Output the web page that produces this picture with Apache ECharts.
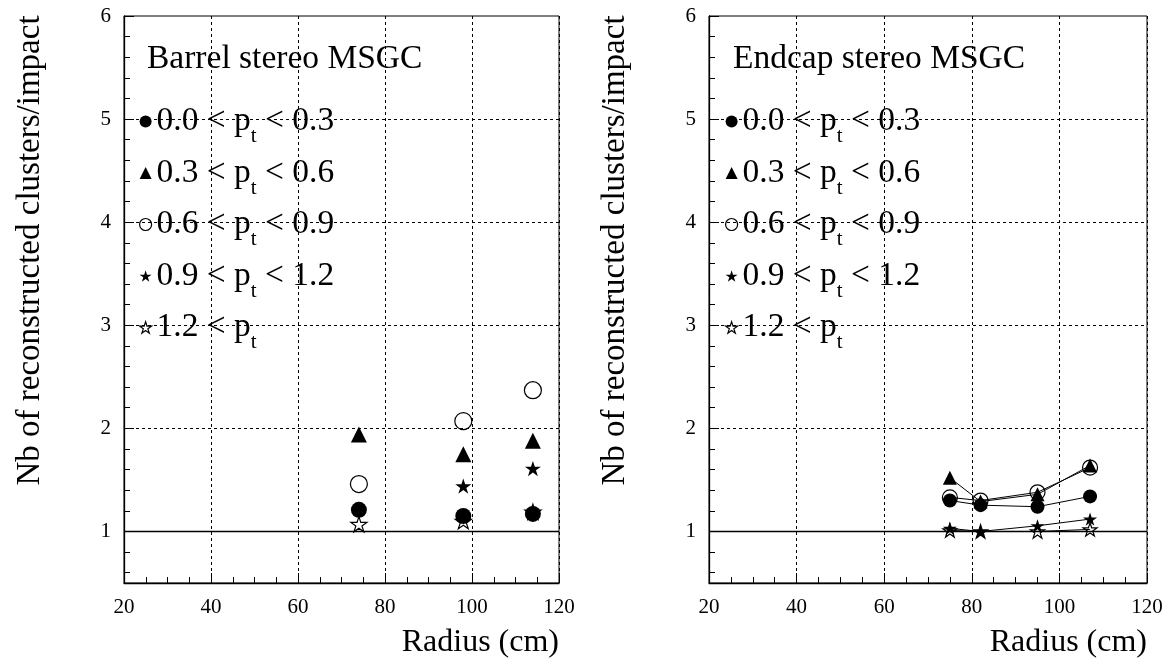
<!DOCTYPE html>
<html>
<head>
<meta charset="utf-8">
<script src="https://cdn.jsdelivr.net/npm/echarts@6/dist/echarts.min.js"></script>
<style>
  html, body { margin: 0; padding: 0; background: #fff; }
  #chart { width: 1168px; height: 665px; }
</style>
</head>
<body>
<div id="chart"></div>
<script>
// Radii (cm) of the measured layers
const radiusBarrel = [74, 98, 114];
const radiusEndcap = [75, 82, 95, 107];

// pt bins (GeV/c): lower and upper edge (null = open bin)
const ptBins = [['0.0', '0.3'], ['0.3', '0.6'], ['0.6', '0.9'], ['0.9', '1.2'], ['1.2', null]];

// Barrel stereo MSGC: reconstructed clusters per impact, one array per pt bin
const barrelPt00to03 = [1.21, 1.15, 1.17];
const barrelPt03to06 = [1.94, 1.75, 1.88];
const barrelPt06to09 = [1.46, 2.07, 2.37];
const barrelPt09to12 = [1.22, 1.44, 1.61];
const barrelPtAbove12 = [1.07, 1.10, 1.19];

// Endcap stereo MSGC
const endcapPt00to03 = [1.30, 1.255, 1.24, 1.34];
const endcapPt03to06 = [1.52, 1.29, 1.36, 1.64];
const endcapPt06to09 = [1.33, 1.30, 1.38, 1.62];
const endcapPt09to12 = [1.03, 1.00, 1.055, 1.12];
const endcapPtAbove12 = [1.01, 1.00, 1.00, 1.02];

// Axis ticks
const xTickStep = 20;
const yMajorTicks = [1, 2, 3, 4, 5, 6];
const yGridLines = [2, 3, 4, 5];
const yReferenceLine = 1;

const panelTitles = ['Barrel stereo MSGC', 'Endcap stereo MSGC'];
const xAxisTitle = 'Radius (cm)';
const yAxisTitle = 'Nb of reconstructed clusters/impact';

const barrelSets = [barrelPt00to03, barrelPt03to06, barrelPt06to09, barrelPt09to12, barrelPtAbove12];
const endcapSets = [endcapPt00to03, endcapPt03to06, endcapPt06to09, endcapPt09to12, endcapPtAbove12];

// minor y ticks every 0.2 between the major ones
const yMinorTicks = [];
for (let v = 0.6; v < 6; v += 0.2) {
  const r = Math.round(v * 10) / 10;
  if (Math.abs(r - Math.round(r)) > 1e-6) yMinorTicks.push(r);
}

const FONT = '"Liberation Serif", "Times New Roman", "DejaVu Serif", serif';
const STAR = 'path://M50,0L61.23,34.55L97.55,34.55L68.17,55.9L79.39,90.45L50,69.1L20.61,90.45L31.83,55.9L2.45,34.55L38.77,34.55Z';

// marker style per pt bin
const markerStyles = [
  { symbol: 'circle', filled: true, size: 16 },
  { symbol: 'triangle', filled: true, size: 16 },
  { symbol: 'circle', filled: false, size: 17 },
  { symbol: STAR, filled: true, size: 16 },
  { symbol: STAR, filled: false, size: 16 }
];

const seriesNames = ptBins.map(b => b[1] ? b[0] + ' < pt < ' + b[1] : b[0] + ' < pt');
const legendLabels = {};
ptBins.forEach((b, i) => {
  legendLabels[seriesNames[i]] = b[1]
    ? '{m|' + b[0] + ' < p}{s|t}{m| < ' + b[1] + '}'
    : '{m|' + b[0] + ' < p}{s|t}';
});

function itemStyleFor(ms) {
  return ms.filled
    ? { color: '#000', borderColor: '#000', borderWidth: 0, opacity: 1 }
    : { color: 'rgba(255,255,255,0)', borderColor: '#000', borderWidth: 1.2, opacity: 1 };
}

const grids = [
  { left: 124, right: 609, top: 16, bottom: 82 },
  { left: 709, right: 21, top: 16, bottom: 82 }
];

function makeXAxis(gi) {
  return {
    gridIndex: gi, type: 'value', min: 20, max: 120, interval: xTickStep,
    axisLine: { show: true, lineStyle: { color: '#000', width: 1.3 } },
    axisTick: { show: true, inside: true, length: 10, lineStyle: { color: '#000' } },
    minorTick: { show: true, splitNumber: 4, length: 6, lineStyle: { color: '#000' } },
    axisLabel: { color: '#000', fontFamily: FONT, fontSize: 21, margin: 14 },
    splitLine: { show: true, lineStyle: { color: '#000', width: 1, type: [3, 3] } },
    name: xAxisTitle, nameLocation: 'end', nameGap: 0,
    nameTextStyle: { color: '#000', fontFamily: FONT, fontSize: 32, align: 'right', verticalAlign: 'top', padding: [44, 0, 0, 0] }
  };
}

function makeYAxes(gi) {
  return [
    {
      gridIndex: gi, type: 'value', min: 0.5, max: 6, position: 'left',
      axisLine: { show: true, lineStyle: { color: '#000', width: 1.3 } },
      axisTick: { show: true, inside: true, length: 10, customValues: yMajorTicks, lineStyle: { color: '#000' } },
      axisLabel: { color: '#000', fontFamily: FONT, fontSize: 21, margin: 13, customValues: yMajorTicks },
      splitLine: { show: false },
      name: yAxisTitle, nameLocation: 'middle', nameRotate: 90, nameGap: 77,
      nameTextStyle: { color: '#000', fontFamily: FONT, fontSize: 33, padding: [0, 0, 0, 98] }
    },
    {
      gridIndex: gi, type: 'value', min: 0.5, max: 6, position: 'left', offset: 0,
      axisLine: { show: false },
      axisTick: { show: true, inside: true, length: 6, customValues: yMinorTicks, lineStyle: { color: '#000' } },
      axisLabel: { show: false },
      splitLine: { show: false }
    }
  ];
}

function gridMarkLine() {
  return {
    silent: true, symbol: 'none', label: { show: false }, animation: false,
    data: yGridLines.map(v => ({ yAxis: v, lineStyle: { color: '#000', width: 1, type: [3, 3] } }))
      .concat([{ yAxis: yReferenceLine, lineStyle: { color: '#000', width: 1.3, type: 'solid' } }])
  };
}

const series = [];
barrelSets.forEach((vals, i) => {
  const ms = markerStyles[i];
  series.push({
    name: seriesNames[i], type: 'scatter', xAxisIndex: 0, yAxisIndex: 0,
    symbol: ms.symbol, symbolSize: ms.size, symbolKeepAspect: true,
    itemStyle: itemStyleFor(ms),
    emphasis: { disabled: true },
    data: vals.map((v, k) => [radiusBarrel[k], v]),
    markLine: i === 0 ? gridMarkLine() : undefined,
    z: 3 + i
  });
});
endcapSets.forEach((vals, i) => {
  const ms = markerStyles[i];
  series.push({
    name: seriesNames[i], type: 'line', xAxisIndex: 1, yAxisIndex: 2,
    symbol: ms.symbol, symbolSize: ms.size - 2, symbolKeepAspect: true, showAllSymbol: true,
    itemStyle: itemStyleFor(ms),
    lineStyle: { color: '#000', width: 1 },
    emphasis: { disabled: true },
    data: vals.map((v, k) => [radiusEndcap[k], v]),
    markLine: i === 0 ? gridMarkLine() : undefined,
    z: 3 + i
  });
});

function makeLegend(left) {
  return {
    orient: 'vertical', left: left, top: 96, padding: 0, itemGap: 0.5,
    itemWidth: 12, itemHeight: 12, selectedMode: false,
    data: seriesNames.map((n, i) => ({
      name: n, icon: markerStyles[i].symbol, itemStyle: itemStyleFor(markerStyles[i])
    })),
    formatter: name => legendLabels[name],
    textStyle: {
      color: '#000', fontFamily: FONT, fontSize: 33.5,
      rich: {
        m: { color: '#000', fontFamily: FONT, fontSize: 33.5, lineHeight: 37 },
        s: { color: '#000', fontFamily: FONT, fontSize: 21, lineHeight: 21, padding: [30, 0, 0, 0] }
      }
    }
  };
}

const titleStyle = { color: '#000', fontFamily: FONT, fontSize: 33.5, fontWeight: 'normal' };

const option = {
  backgroundColor: '#fff',
  animation: false,
  title: [
    { text: panelTitles[0], left: 147, top: 42, padding: 0, textStyle: titleStyle },
    { text: panelTitles[1], left: 733, top: 42, padding: 0, textStyle: titleStyle }
  ],
  legend: [makeLegend(139), makeLegend(725)],
  grid: grids.map(g => Object.assign({ show: true, borderColor: '#000', borderWidth: 1, backgroundColor: 'transparent' }, g)),
  xAxis: [makeXAxis(0), makeXAxis(1)],
  yAxis: makeYAxes(0).concat(makeYAxes(1)),
  series: series
};

const chart = echarts.init(document.getElementById('chart'), null, { renderer: 'canvas' });
chart.setOption(option);
</script>
</body>
</html>
